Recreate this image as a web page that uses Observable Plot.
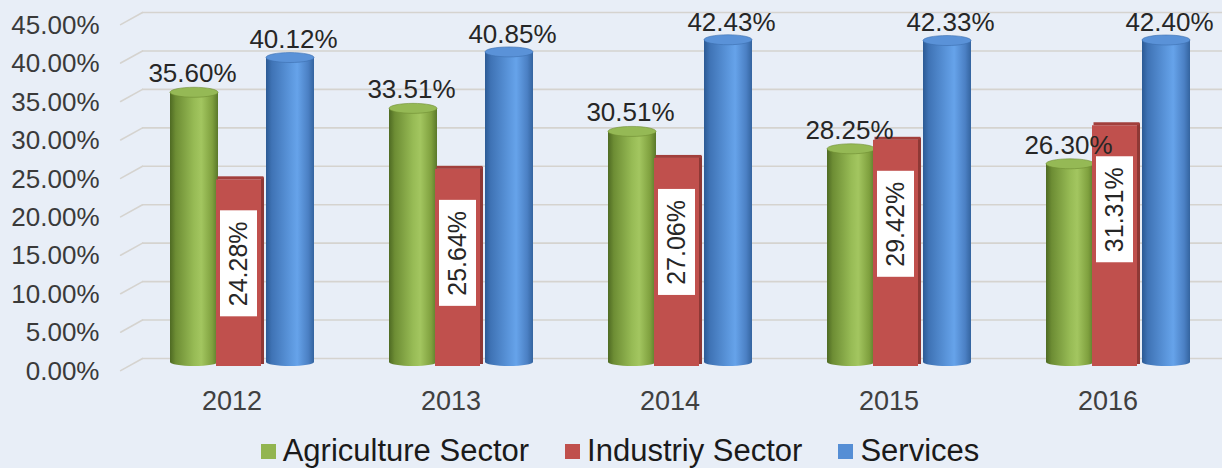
<!DOCTYPE html>
<html>
<head>
<meta charset="utf-8">
<script src="https://cdn.jsdelivr.net/npm/d3@7"></script>
<script src="https://cdn.jsdelivr.net/npm/@observablehq/plot@0.6"></script>
<style>
  html, body { margin: 0; padding: 0; background: #e8eef7; overflow: hidden; }
  body { width: 1222px; height: 468px; font-family: "Liberation Sans", Arial, sans-serif; }
  #legend { height: 48px; padding-top: 7px; display: flex; align-items: center; justify-content: center; padding-left: 18px;
            font-size: 31px; color: #1a1a1a; }
  #legend .item { display: flex; align-items: center; margin: 0 18px; }
  #legend .sw { width: 15px; height: 15px; margin-right: 7px; }
</style>
</head>
<body>
<svg width="0" height="0" style="position:absolute">
  <defs>
    <linearGradient id="gGreen" x1="0" x2="1" y1="0" y2="0">
      <stop offset="0" stop-color="#4e6a23"/>
      <stop offset="0.12" stop-color="#6d8d34"/>
      <stop offset="0.5" stop-color="#97bb55"/>
      <stop offset="0.65" stop-color="#a3c660"/>
      <stop offset="0.88" stop-color="#7fa03e"/>
      <stop offset="1" stop-color="#5a782a"/>
    </linearGradient>
    <linearGradient id="gBlue" x1="0" x2="1" y1="0" y2="0">
      <stop offset="0" stop-color="#2c5a94"/>
      <stop offset="0.12" stop-color="#3f73b5"/>
      <stop offset="0.5" stop-color="#5b96dc"/>
      <stop offset="0.65" stop-color="#66a3ea"/>
      <stop offset="0.88" stop-color="#4b80c4"/>
      <stop offset="1" stop-color="#34649f"/>
    </linearGradient>
  </defs>
</svg>
<div id="chart"></div>
<div id="legend"></div>
<script>
const years = ["2012", "2013", "2014", "2015", "2016"];
const sectors = ["Agriculture Sector", "Industriy Sector", "Services"];
const agriculture = [35.60, 33.51, 30.51, 28.25, 26.30];
const industry = [24.28, 25.64, 27.06, 29.42, 31.31];
const services = [40.12, 40.85, 42.43, 42.33, 42.40];
const yTicks = [0, 5, 10, 15, 20, 25, 30, 35, 40, 45];
const sectorColors = ["#92b550", "#c0504d", "#558ed5"];

const rowsOf = (values, sector) => years.map((year, i) => ({year, sector, value: values[i]}));
const agriRows = rowsOf(agriculture, sectors[0]);
const indRows = rowsOf(industry, sectors[1]);
const servRows = rowsOf(services, sectors[2]);
const gridRows = years.flatMap(year => yTicks.map(v => ({year, v})));
const gridFirst = gridRows.filter(d => d.year === years[0]);
const gridRest = gridRows.filter(d => d.year !== years[0]);

const fmt = d => d.toFixed(2) + "%";
const lineShape = {draw(context, l) { context.moveTo(0, 0); context.lineTo(0, -l); }};
const common = {fx: "year", x: "sector"};
const gridStyle = {stroke: "#d5d3cf", strokeWidth: 1.6};

const cylinder = (rows, grad, top, edge) => [
  Plot.barY(rows, {...common, y1: () => 0, y2: "value", insetBottom: 4, fill: grad}),
  Plot.barY(rows, {...common, y1: () => 0, y2: () => 0, insetTop: -4, insetBottom: -4, dy: -4, rx: 24, ry: 4, fill: grad}),
  Plot.barY(rows, {...common, y1: "value", y2: "value", insetTop: -5, insetBottom: -5, rx: 24, ry: 5, fill: top, stroke: edge, strokeWidth: 0.6})
];

const chart = Plot.plot({
  width: 1222,
  height: 420,
  marginLeft: 130,
  marginRight: -6,
  marginTop: 20,
  marginBottom: 54,
  style: {background: "#e8eef7", fontFamily: "'Liberation Sans', Arial, sans-serif"},
  fx: {domain: years, paddingInner: 0, paddingOuter: 0, label: null},
  x: {domain: sectors, paddingInner: 0.0, paddingOuter: 0.75, axis: null},
  y: {domain: [0, 45], axis: null},
  marks: [
    Plot.ruleY(gridFirst, {fx: "year", y: "v", dy: -8, insetLeft: 10, ...gridStyle}),
    Plot.ruleY(gridRest, {fx: "year", y: "v", dy: -8, ...gridStyle}),
    Plot.vector(gridFirst, {fx: "year", y: "v", frameAnchor: "left", dx: 10, dy: -8, anchor: "end",
      length: 25, rotate: 61, shape: lineShape, ...gridStyle}),
    Plot.axisY({ticks: yTicks, tickFormat: fmt, tickSize: 0, tickPadding: 33, dy: 5, fontSize: 26,
      color: "#3a3a3a", label: null, anchor: "left"}),
    Plot.axisFx({anchor: "bottom", tickSize: 0, tickPadding: 24, dx: -10, fontSize: 27, color: "#404040", label: null}),
    ...cylinder(agriRows, "url(#gGreen)", "#95b955", "#6e8d33"),
    ...cylinder(servRows, "url(#gBlue)", "#5a92d8", "#3d6eae"),
    Plot.barY(indRows, {...common, y1: () => 0, y2: "value", dx: -2, insetRight: 3, fill: "#c0504d"}),
    Plot.barY(indRows, {...common, y1: () => 0, y2: "value", dx: -2, insetLeft: 45, dy: -2, fill: "#8e3835"}),
    Plot.barY(indRows, {...common, y1: "value", y2: "value", insetTop: -3, insetBottom: 0, dx: -0.5, insetRight: 2, fill: "#a23f3c"}),
    Plot.barY(indRows, {...common, y1: "value", y2: "value", insetTop: 31, insetBottom: -137, dx: -2, insetLeft: 4, insetRight: 7, fill: "white"}),
    Plot.text(indRows, {...common, y: "value", dy: 84, dx: -3.5, rotate: -90, text: d => fmt(d.value), fontSize: 25, fill: "#262626"}),
    Plot.text(agriRows, {...common, y: "value", dy: -19, dx: -2, text: d => fmt(d.value), fontSize: 26, fill: "#262626"}),
    Plot.text(servRows, {...common, y: "value", dy: -18, dx: 3, text: d => fmt(d.value), fontSize: 26, fill: "#262626"})
  ]
});
document.getElementById("chart").appendChild(chart);

const legend = d3.select("#legend");
sectors.forEach((s, i) => {
  const item = legend.append("div").attr("class", "item");
  item.append("div").attr("class", "sw").style("background", sectorColors[i]);
  item.append("span").text(s);
});
</script>
</body>
</html>
